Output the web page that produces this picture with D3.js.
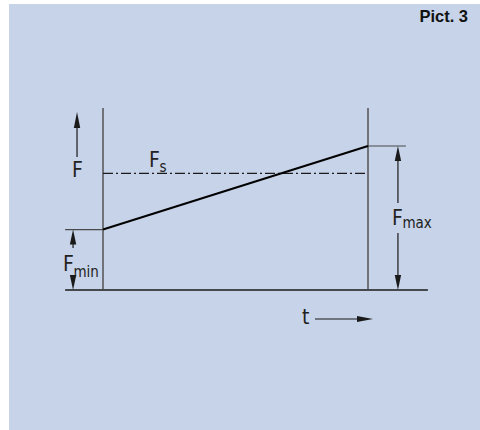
<!DOCTYPE html>
<html><head><meta charset="utf-8">
<script src="https://cdn.jsdelivr.net/npm/d3@7"></script>
<style>html,body{margin:0;padding:0;background:#fff;}svg{display:block;}</style>
</head><body>
<svg id="c" width="480" height="430"></svg>
<script>
// ---- data (schematic, force relative to Fmax) ----
const timePoints = [0, 1];            // start and end of the load cycle
const loadForce  = [0.42, 1.0];       // F at start (Fmin) and end (Fmax)
const staticForce = [0.81, 0.81];     // Fs (dash-dot level)
const forceLabels = ["F", "Fs", "Fmin", "Fmax"];
const timeLabel = ["t"];
const pictLabel = ["Pict. 3"];

// ---- layout ----
const svg = d3.select("#c");
const x = d3.scaleLinear().domain([0, 1]).range([103, 368]);
const y = d3.scaleLinear().domain([0, 1.264]).range([290, 108]);
const ink = "#1a1a1a", grey = "#4a4a4a";
const font = "'Liberation Sans Narrow','DejaVu Sans Condensed','Liberation Sans',sans-serif";

svg.append("rect").attr("x", 9).attr("y", 4).attr("width", 471).attr("height", 426).attr("fill", "#c6d3e8");

svg.append("text").attr("x", 468).attr("y", 22).attr("text-anchor", "end")
  .attr("font-family", "'Liberation Sans',Arial,sans-serif").attr("font-weight", "bold")
  .attr("font-size", 16.5).attr("fill", "#111").text(pictLabel[0]);

const line = (x1, y1, x2, y2, stroke, w) =>
  svg.append("line").attr("x1", x1).attr("y1", y1).attr("x2", x2).attr("y2", y2)
    .attr("stroke", stroke).attr("stroke-width", w);

// arrowhead: tip at (tx,ty), direction 'up','down','right'
function head(tx, ty, dir, len = 15, hw = 3.2) {
  let p;
  if (dir === "up") p = [[tx, ty], [tx - hw, ty + len], [tx + hw, ty + len]];
  else if (dir === "down") p = [[tx, ty], [tx - hw, ty - len], [tx + hw, ty - len]];
  else p = [[tx, ty], [tx - len, ty - hw], [tx - len, ty + hw]];
  svg.append("path").attr("d", d3.line()(p) + "Z").attr("fill", ink);
}

// baseline (t axis)
line(x(-0.143), y(0), x(1.226), y(0), ink, 1.4);
// verticals at start / end
line(x(timePoints[0]), y(1.264), x(timePoints[0]), y(0), grey, 1.4);
line(x(timePoints[1]), y(1.264), x(timePoints[1]), y(0), grey, 1.4);

// Fmin / Fmax reference ticks
line(x(-0.143), y(loadForce[0]), x(0), y(loadForce[0]), grey, 1.2);
line(x(1), y(loadForce[1]), x(1.143), y(loadForce[1]), grey, 1.2);

// Fs dash-dot
svg.append("path")
  .attr("d", d3.line().x((d, i) => x(timePoints[i])).y(d => y(d))(staticForce))
  .attr("stroke", ink).attr("stroke-width", 1.1).attr("fill", "none")
  .attr("stroke-dasharray", "10,3,2,3");

// load line
svg.append("path")
  .attr("d", d3.line().x((d, i) => x(timePoints[i])).y(d => y(d))(loadForce))
  .attr("stroke", "#000").attr("stroke-width", 2).attr("fill", "none");

// F arrow (vertical axis indicator)
const fx = x(-0.098);
line(fx, 157, fx, 124, ink, 1.2);
head(fx, 112, "up", 16);

// Fmin arrows
const mx = x(-0.113);
line(mx, y(loadForce[0]) + 10, mx, 248, ink, 1.2);
head(mx, y(loadForce[0]), "up");
line(mx, 281, mx, y(0) - 10, ink, 1.2);
head(mx, y(0), "down");

// Fmax arrows
const Mx = x(1.113);
line(Mx, y(loadForce[1]) + 10, Mx, 203, ink, 1.2);
head(Mx, y(loadForce[1]), "up");
line(Mx, 233, Mx, y(0) - 10, ink, 1.2);
head(Mx, y(0), "down");

// t arrow
line(315, 319, 360, 319, ink, 1.2);
head(373, 319, "right", 16, 3);

// labels
function label(xp, yp, main, sub, fs = 21, ss = 15, dy = 5) {
  const t = svg.append("text").attr("x", xp).attr("y", yp)
    .attr("font-family", font).attr("font-size", fs).attr("fill", "#222");
  t.append("tspan").text(main);
  if (sub) t.append("tspan").attr("font-size", ss).attr("dy", dy).attr("dx", -0.5).text(sub);
}
label(72, 177, forceLabels[0]);
label(149, 167, "F", "s", 21, 15, 5);
label(63, 271, "F", "min", 21, 15, 6);
label(392, 225, "F", "max", 21, 15, 3);
label(302, 324, timeLabel[0], null, 21);
</script>
</body></html>
